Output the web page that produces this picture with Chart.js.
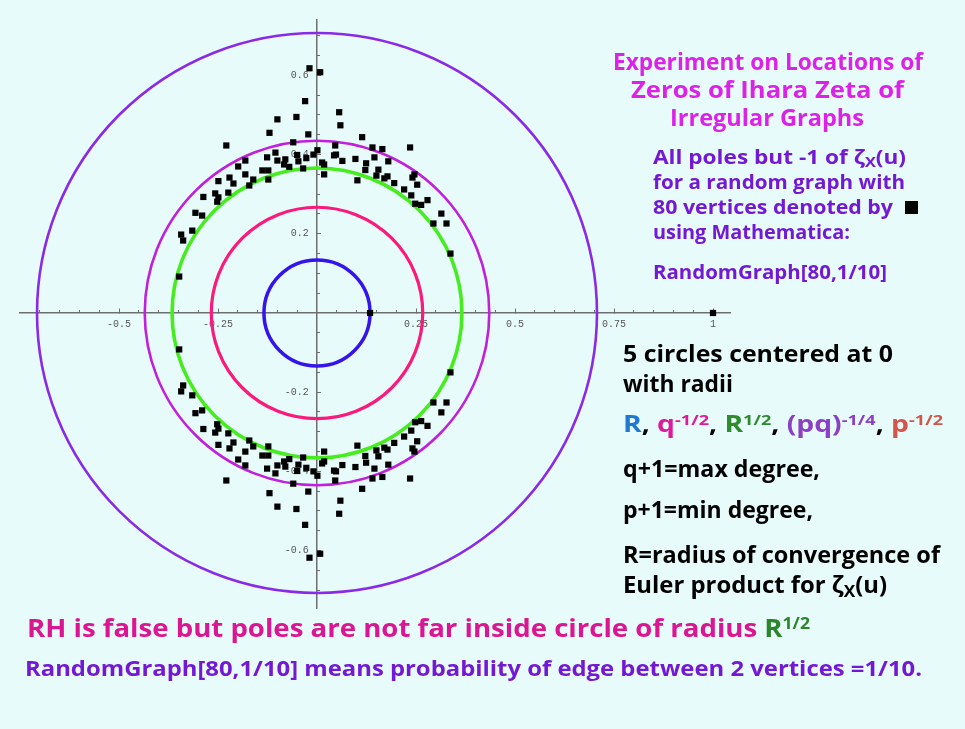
<!DOCTYPE html>
<html>
<head>
<meta charset="utf-8">
<script src="https://cdn.jsdelivr.net/npm/chart.js@4.4.1/dist/chart.umd.min.js"></script>
<style>
html,body{margin:0;padding:0;}
body{width:965px;height:729px;background:#e8fbfb;position:relative;overflow:hidden;font-family:'Open Sans','Noto Sans',sans-serif;font-weight:700;}
#c{position:absolute;left:0;top:0;}
#txt{position:absolute;left:0;top:0;width:965px;height:729px;}
.ln{position:absolute;white-space:nowrap;line-height:1;transform-origin:0 0;}
.ln sup{font-size:0.64em;vertical-align:0.52em;line-height:0;}
.ln sub{font-size:0.72em;vertical-align:-0.22em;line-height:0;}
.bm{display:inline-block;width:0;height:0;}
#sq{position:absolute;left:905px;top:201px;width:12.5px;height:12.5px;background:#000;}
</style>
</head>
<body>
<canvas id="c" width="965" height="729"></canvas>
<div id="txt"></div>
<div id="sq"></div>
<script>
// ---------- data ----------
// poles in the upper half plane (real part, imaginary part)
const upperRe = [-0.019,0.008,-0.030,0.056,0.059,-0.100,-0.052,-0.120,-0.022,-0.229,
 -0.060,0.114,0.046,0.140,0.165,0.235,0.001,-0.105,-0.050,-0.027,
 -0.009,0.043,0.048,-0.126,-0.100,-0.080,-0.181,-0.047,0.013,0.018,
 0.064,0.097,0.145,0.180,0.124,-0.083,-0.070,-0.035,-0.199,-0.138,
 -0.123,-0.181,-0.221,-0.249,-0.161,-0.123,0.018,0.122,0.155,0.150,
 0.178,0.170,0.102,0.195,0.241,0.246,0.253,0.220,0.238,0.279,
 -0.171,-0.211,-0.257,-0.287,-0.249,-0.224,-0.343,-0.338,-0.315,-0.307,
 -0.290,-0.252,0.248,0.263,0.294,0.314,0.327,0.337,-0.348];
const upperIm = [0.618,0.608,0.535,0.507,0.474,0.489,0.495,0.455,0.451,0.423,
 0.431,0.444,0.423,0.418,0.414,0.418,0.411,0.405,0.399,0.391,
 0.400,0.398,0.400,0.393,0.385,0.388,0.385,0.383,0.380,0.375,
 0.384,0.389,0.393,0.383,0.378,0.375,0.369,0.365,0.370,0.360,
 0.360,0.350,0.342,0.333,0.337,0.337,0.350,0.361,0.362,0.347,
 0.345,0.340,0.335,0.328,0.342,0.350,0.324,0.312,0.297,0.285,
 0.322,0.327,0.302,0.293,0.292,0.304,0.198,0.183,0.208,0.253,
 0.246,0.281,0.276,0.273,0.226,0.251,0.226,0.150,0.092];
// poles in the lower half plane (conjugates, as seen in the picture)
const lowerRe = [-0.019,0.008,-0.030,0.056,0.059,-0.100,-0.052,-0.120,-0.022,-0.229,
 -0.060,0.114,0.046,0.140,0.165,0.235,0.001,-0.105,-0.050,-0.027,
 -0.009,0.043,0.048,-0.126,-0.100,-0.080,-0.181,-0.047,0.013,0.018,
 0.064,0.097,0.145,0.180,0.124,-0.083,-0.070,-0.035,-0.199,-0.138,
 -0.123,-0.181,-0.221,-0.249,-0.161,-0.123,0.018,0.122,0.155,0.150,
 0.178,0.170,0.102,0.195,0.241,0.246,0.253,0.220,0.238,0.279,
 -0.171,-0.211,-0.257,-0.287,-0.249,-0.224,-0.343,-0.338,-0.315,-0.307,
 -0.290,-0.252,0.248,0.263,0.294,0.314,0.327,0.337,-0.348];
const lowerIm = [-0.618,-0.608,-0.535,-0.507,-0.474,-0.489,-0.495,-0.455,-0.451,-0.423,
 -0.431,-0.444,-0.423,-0.418,-0.414,-0.418,-0.411,-0.405,-0.399,-0.391,
 -0.400,-0.398,-0.400,-0.393,-0.385,-0.388,-0.385,-0.383,-0.380,-0.375,
 -0.384,-0.389,-0.393,-0.383,-0.378,-0.375,-0.369,-0.365,-0.370,-0.360,
 -0.360,-0.350,-0.342,-0.333,-0.337,-0.337,-0.350,-0.361,-0.362,-0.347,
 -0.345,-0.340,-0.335,-0.328,-0.342,-0.350,-0.324,-0.312,-0.297,-0.285,
 -0.322,-0.327,-0.302,-0.293,-0.292,-0.304,-0.198,-0.183,-0.208,-0.253,
 -0.246,-0.281,-0.276,-0.273,-0.226,-0.251,-0.226,-0.150,-0.092];
// real poles
const realRe = [0.134, 1];
const realIm = [0, 0];
// circle radii: R, q^-1/2, R^1/2, (pq)^-1/4, p^-1/2
const circleRadii = [0.134, 0.267, 0.366, 0.435, 0.707];
// tick labels
const xTickValues = [-0.5, -0.25, 0.25, 0.5, 0.75, 1];
const xTickLabels = ['-0.5', '-0.25', '0.25', '0.5', '0.75', '1'];
const yTickValues = [-0.6, -0.4, -0.2, 0.2, 0.4, 0.6];
const yTickLabels = ['-0.6', '-0.4', '-0.2', '0.2', '0.4', '0.6'];
const minorStep = 0.05;

// ---------- styles ----------
const circleStyles = [
  {color:'#3414ea', width:3.5},
  {color:'#fb1a7c', width:3.2},
  {color:'#45ec1e', width:3.6},
  {color:'#c11fdc', width:2.6},
  {color:'#8a2ae6', width:2.6}
];
const AXIS = '#6e6e6e';
const X_MIN = -0.75, X_MAX = 1.0429, Y_MIN = -0.745, Y_MAX = 0.7399;

function pts(re, im){ return re.map((v,i)=>({x:v, y:im[i]})); }
function minorTicks(lo, hi, majors){
  const out = [];
  const n0 = Math.round(lo/minorStep), n1 = Math.round(hi/minorStep);
  for (let n=n0; n<=n1; n++){
    const v = +(n*minorStep).toFixed(4);
    if (Math.abs(v) < 1e-9) continue;
    if (majors.some(m=>Math.abs(m-v)<1e-9)) continue;
    out.push({value:v});
  }
  return out;
}
function labelFor(v, vals, labs){
  const i = vals.findIndex(m=>Math.abs(m-v)<1e-9);
  return i>=0 ? labs[i] : '';
}

const tickFont = {family:"'Liberation Mono','DejaVu Sans Mono',monospace", size:10};

const circlePlugin = {
  id:'circles',
  beforeDatasetsDraw(chart){
    const ctx = chart.ctx, xs = chart.scales.x, ys = chart.scales.y;
    const cx = xs.getPixelForValue(0), cy = ys.getPixelForValue(0);
    ctx.save();
    for (let i=circleRadii.length-1; i>=0; i--){
      const rx = xs.getPixelForValue(circleRadii[i]) - cx;
      const ry = cy - ys.getPixelForValue(circleRadii[i]);
      ctx.beginPath();
      ctx.ellipse(cx, cy, rx, ry, 0, 0, Math.PI*2);
      ctx.strokeStyle = circleStyles[i].color;
      ctx.lineWidth = circleStyles[i].width;
      ctx.stroke();
    }
    ctx.restore();
  }
};

const pointOpts = {backgroundColor:'#000', borderWidth:0, pointStyle:'rect', pointRadius:4.4, pointHoverRadius:4.4, showLine:false};

new Chart(document.getElementById('c'), {
  type:'scatter',
  data:{datasets:[
    Object.assign({label:'upper', data:pts(upperRe, upperIm)}, pointOpts),
    Object.assign({label:'lower', data:pts(lowerRe, lowerIm)}, pointOpts),
    Object.assign({label:'real', data:pts(realRe, realIm)}, pointOpts)
  ]},
  options:{
    responsive:false, animation:false, events:[],
    layout:{padding:{left:20, top:20, right:235, bottom:121}},
    plugins:{legend:{display:false}, tooltip:{enabled:false}},
    scales:{
      x:{type:'linear', min:X_MIN, max:X_MAX, position:{y:0},
         afterBuildTicks:s=>{ s.ticks = xTickValues.map(v=>({value:v})); },
         ticks:{autoSkip:false, maxRotation:0, font:tickFont, color:'#555', padding:10,
                callback:v=>labelFor(v, xTickValues, xTickLabels)},
         grid:{display:true, drawOnChartArea:false, drawTicks:true, tickLength:-5, tickColor:AXIS, tickWidth:1},
         border:{display:true, color:AXIS, width:1.5}},
      xMinor:{type:'linear', min:X_MIN, max:X_MAX, position:{y:0},
         afterBuildTicks:s=>{ s.ticks = minorTicks(-0.7, 1.0, xTickValues); },
         ticks:{display:false, autoSkip:false},
         grid:{display:true, drawOnChartArea:false, drawTicks:true, tickLength:-3, tickColor:AXIS, tickWidth:1},
         border:{display:false}},
      y:{type:'linear', min:Y_MIN, max:Y_MAX, position:{x:0},
         afterBuildTicks:s=>{ s.ticks = yTickValues.map(v=>({value:v})); },
         ticks:{display:false, autoSkip:false},
         grid:{display:true, drawOnChartArea:false, drawTicks:true, tickLength:-5, tickColor:AXIS, tickWidth:1},
         border:{display:true, color:AXIS, width:1.5}},
      yMinor:{type:'linear', min:Y_MIN, max:Y_MAX, position:{x:0},
         afterBuildTicks:s=>{ s.ticks = minorTicks(-0.7, 0.7, yTickValues); },
         ticks:{display:false, autoSkip:false},
         grid:{display:true, drawOnChartArea:false, drawTicks:true, tickLength:-3, tickColor:AXIS, tickWidth:1},
         border:{display:false}},
      yLabels:{type:'linear', min:Y_MIN, max:Y_MAX, position:{x:-0.021},
         afterBuildTicks:s=>{ s.ticks = yTickValues.map(v=>({value:v})); },
         ticks:{autoSkip:false, font:tickFont, color:'#555', padding:0,
                callback:v=>labelFor(v, yTickValues, yTickLabels)},
         grid:{display:false},
         border:{display:false}}
    }
  },
  plugins:[circlePlugin]
});

// ---------- text ----------
const TITLE = '#dc22e8', PURPLE = '#7419d3', PINK = '#dc1592', GREEN = '#2b862b', BLACK = '#000';
const formula = '<span style="color:#1f78d1">R</span>, <span style="color:#e0189c">q<sup>-1/2</sup></span>, ' +
  '<span style="color:#2e8b2e">R<sup>1/2</sup></span>, <span style="color:#8a3fc4">(pq)<sup>-1/4</sup></span>, ' +
  '<span style="color:#d4554a">p<sup>-1/2</sup></span>';
const textLines = [
  {html:'Experiment on Locations of', color:TITLE, x:613, base:70, w:310, size:23.5},
  {html:'Zeros of Ihara Zeta of', color:TITLE, x:631, base:97.5, w:273, size:23.5},
  {html:'Irregular Graphs', color:TITLE, x:670, base:126, w:194, size:23.5},
  {html:'All poles but -1 of ζ<sub>X</sub>(u)', color:PURPLE, x:653, base:164, w:253, size:20},
  {html:'for a random graph with', color:PURPLE, x:653, base:189, w:252, size:20},
  {html:'80 vertices denoted by', color:PURPLE, x:653, base:214, w:240, size:20},
  {html:'using Mathematica:', color:PURPLE, x:653, base:239, w:197, size:20},
  {html:'RandomGraph[80,1/10]', color:PURPLE, x:653, base:278.5, w:234, size:20},
  {html:'5 circles centered at 0', color:BLACK, x:623, base:361.7, w:270, size:22.5},
  {html:'with radii', color:BLACK, x:623, base:391.7, w:110, size:22.5},
  {html:formula, color:BLACK, x:623, base:431.7, w:320, size:22.5},
  {html:'q+1=max degree,', color:BLACK, x:623, base:476.7, w:197, size:22.5},
  {html:'p+1=min degree,', color:BLACK, x:623, base:518.3, w:190, size:22.5},
  {html:'R=radius of convergence of', color:BLACK, x:623, base:563.3, w:317, size:22.5},
  {html:'Euler product for ζ<sub>X</sub>(u)', color:BLACK, x:623, base:593, w:264, size:22.5},
  {html:'RH is false but poles are not far inside circle of radius <span style="color:' + GREEN + '">R<sup>1/2</sup></span>', color:PINK, x:27, base:637, w:783, size:24.5},
  {html:'RandomGraph[80,1/10] means probability of edge between 2 vertices =1/10.', color:PURPLE, x:25, base:676, w:897, size:21.5}
];
const holder = document.getElementById('txt');
for (const L of textLines){
  const d = document.createElement('div');
  d.className = 'ln';
  d.style.left = L.x + 'px';
  d.style.top = '0px';
  d.style.fontSize = L.size + 'px';
  d.style.color = L.color;
  d.innerHTML = '<span class="in">' + L.html + '</span><span class="bm"></span>';
  holder.appendChild(d);
  const inner = d.querySelector('.in'), bm = d.querySelector('.bm');
  const w = inner.getBoundingClientRect().width;
  const off = bm.getBoundingClientRect().top - d.getBoundingClientRect().top;
  d.style.top = (L.base - off) + 'px';
  d.style.transform = 'scaleX(' + (L.w / w).toFixed(4) + ')';
}
</script>
</body>
</html>
